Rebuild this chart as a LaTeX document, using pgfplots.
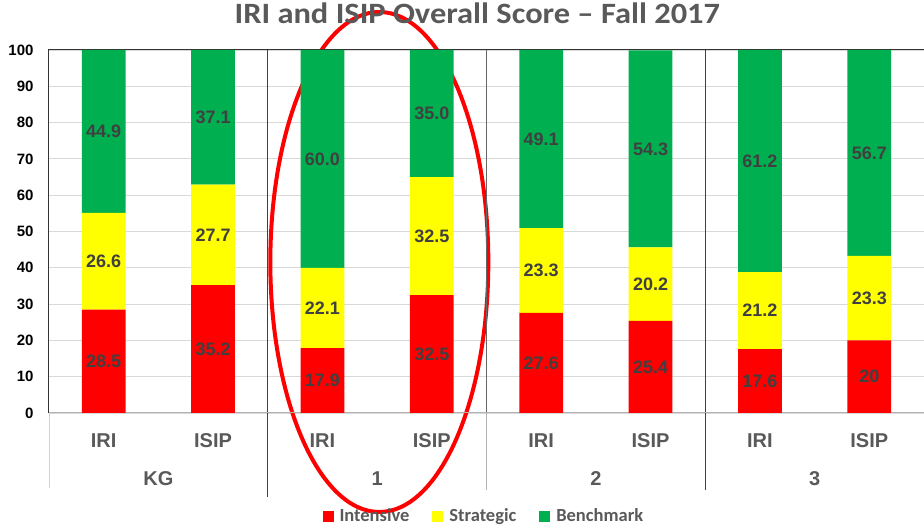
\documentclass[border=0pt]{standalone}
\usepackage{fontspec}
\setmainfont{Carlito}
\newfontfamily\arial{Liberation Sans}
\newfontfamily\titlefont[FakeStretch=1.1]{Carlito}
\usepackage{pgfplots}
\pgfplotsset{compat=1.18}
\definecolor{cred}{HTML}{FF0000}
\definecolor{cyel}{HTML}{FFFF00}
\definecolor{cgrn}{HTML}{00B050}
\definecolor{txt}{HTML}{595959}
\definecolor{lbl}{HTML}{404040}
\definecolor{grd}{HTML}{D9D9D9}
\pgfplotsset{sq/.style={legend image code/.code={\fill[##1] (0pt,-5.5pt) rectangle (11pt,5.5pt);}}}
\begin{document}
\begin{tikzpicture}
\path[use as bounding box] (-49pt,-114pt) rectangle (875pt,413pt);
\begin{axis}[
 scale only axis, width=875pt, height=363pt,
 ybar stacked, bar width=0.4,
 xmin=-0.5, xmax=7.5, ymin=0, ymax=100,
 ytick={0,10,...,100},
 xtick={0,...,7},
 xticklabels={IRI,ISIP,IRI,ISIP,IRI,ISIP,IRI,ISIP},
 extra x ticks={0.5,2.5,4.5,6.5},
 extra x tick labels={KG,1,2,3},
 extra x tick style={xticklabel style={yshift=-38pt}},
 major tick length=0pt,
 ymajorgrids, grid style={grd, line width=0.8pt},
 axis line style={draw=none},
 /pgf/number format/assume math mode=true,
 yticklabel style={font=\arial\bfseries\fontsize{15}{15}\selectfont, text=black, xshift=-12pt},
 xticklabel style={font=\arial\bfseries\fontsize{20}{20}\selectfont, text=txt, anchor=base, yshift=-35pt},
 title={IRI and ISIP Overall Score – Fall 2017},
 title style={font=\titlefont\bfseries\fontsize{29.5}{29.5}\selectfont, text=txt, at={(0.4895,1)}, anchor=base, yshift=20pt},
 legend style={at={(0.497,0)}, anchor=center, yshift=-103pt, draw=none, fill=none, font=\bfseries\fontsize{18.5}{18.5}\selectfont, text=txt, legend columns=3, inner sep=0pt, /tikz/every odd column/.append style={column sep=4pt}, /tikz/every even column/.append style={column sep=21pt}},
 legend cell align=left,
 nodes near coords,
 point meta=explicit symbolic,
 every node near coord/.append style={font=\arial\bfseries\fontsize{18}{18}\selectfont, text=lbl, anchor=center},
 clip=false,
]
\addplot[fill=cred, draw=none, sq] coordinates {(0,28.5)[28.5] (1,35.2)[35.2] (2,17.9)[17.9] (3,32.5)[32.5] (4,27.6)[27.6] (5,25.4)[25.4] (6,17.6)[17.6] (7,20)[20]};
\addplot[fill=cyel, draw=none, sq] coordinates {(0,26.6)[26.6] (1,27.7)[27.7] (2,22.1)[22.1] (3,32.5)[32.5] (4,23.3)[23.3] (5,20.2)[20.2] (6,21.2)[21.2] (7,23.3)[23.3]};
\addplot[fill=cgrn, draw=none, sq] coordinates {(0,44.9)[44.9] (1,37.1)[37.1] (2,60.0)[60.0] (3,35.0)[35.0] (4,49.1)[49.1] (5,54.3)[54.3] (6,61.2)[61.2] (7,56.7)[56.7]};
\legend{Intensive,Strategic,Benchmark}
% frame
\draw[black!80, line width=1pt] (axis cs:-0.5,0) -- (axis cs:-0.5,100) -- (axis cs:7.5,100);
\draw[gray!60, line width=1pt] (axis cs:-0.5,0) -- (axis cs:7.5,0);
\draw[gray!35, line width=0.8pt] (axis cs:-0.5,0) -- ([yshift=-75pt]axis cs:-0.5,0);
\draw[black!75, line width=0.8pt] (axis cs:1.5,100) -- (axis cs:1.5,0) -- ([yshift=-84pt]axis cs:1.5,0);
\draw[black!60, line width=0.8pt] (axis cs:3.5,100) -- (axis cs:3.5,0);
\draw[gray!60, line width=0.8pt] (axis cs:3.5,0) -- ([yshift=-77pt]axis cs:3.5,0);
\draw[black!75, line width=0.8pt] (axis cs:5.5,100) -- (axis cs:5.5,0) -- ([yshift=-77pt]axis cs:5.5,0);
% annotation ellipse
\draw[cred, line width=4pt] (axis cs:2.52,41.6) ellipse [x radius=109pt, y radius=250pt];
\end{axis}
\end{tikzpicture}
\end{document}
